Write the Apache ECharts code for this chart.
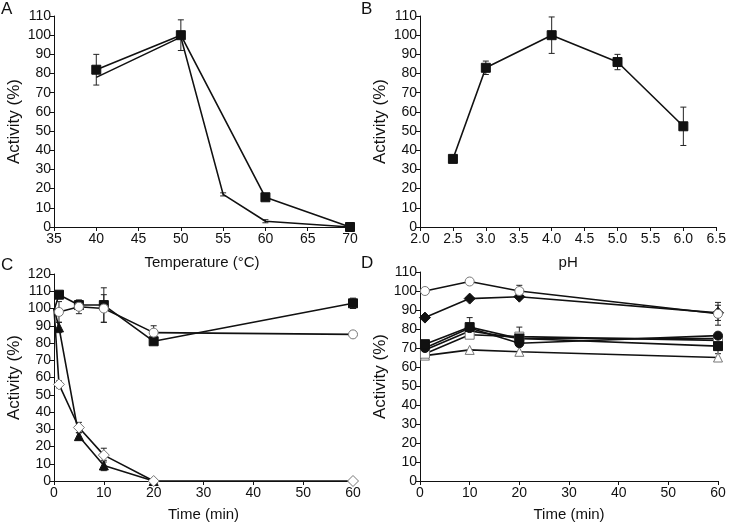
<!DOCTYPE html>
<html>
<head>
<meta charset="utf-8">
<script src="https://cdn.jsdelivr.net/npm/echarts@6/dist/echarts.min.js"></script>
<style>
  html, body { margin: 0; padding: 0; background: #fff; }
  #chart { width: 729px; height: 523px; }
</style>
</head>
<body>
<div id="chart"></div>
<script>
// panel A - temperature
const tempA1 = [40, 50, 60, 70]
const actA1 = [82, 100, 15.5, 0]
const errA1 = [8, 8, 0, 0]
const tempA2 = [40, 50, 55, 60, 70]
const actA2 = [78, 99, 17, 3, 0]
const errA2 = [0, 0, 0.8, 0.8, 0]

// panel B - pH
const phB = [2.5, 3.0, 4.0, 5.0, 6.0]
const actB = [35.5, 83, 100, 86, 52.5]
const errB = [1.5, 3.5, 9.5, 4, 10]

// panel C - time (min)
const timeC = [0, 1, 5, 10, 20, 60]
const cSquare = [99, 108, 102, 102, 81, 103]
const cSquareErr = [0, 1, 1, 10, 1, 3]
const cCircle = [100, 98, 101, 100, 86, 85]
const cCircleErr = [0, 6, 4, 8, 4, 0]
const cTriangle = [100, 89, 26, 9, 0, null]
const cTriangleErr = [0, 3, 2, 3, 0, 0]
const cDiamond = [100, 56, 31, 15, 0, 0]
const cDiamondErr = [0, 2, 3, 4, 0, 0]

// panel D - time (min)
const timeD = [1, 10, 20, 60]
const dOpenCircle = [100, 105, 100, 88]
const dOpenCircleErr = [0, 1, 3, 6]
const dDiamond = [86, 96, 97, 88.5]
const dDiamondErr = [0, 0, 0, 4]
const dSquare = [72, 81, 75, 71]
const dSquareErr = [0, 5, 0, 4]
const dCircle = [70, 80.5, 72.5, 76.5]
const dOpenSquare = [67, 77, 76, 74]
const dOpenSquareErr = [0, 2, 5, 0]
const dPlain = [69, 79, 75, 75]
const dOpenTriangle = [66, 69, 68, 65]

const FONT = 'Liberation Sans, Arial, sans-serif'
const INK = '#111'

// 0 时刻的点落在坐标轴上，不画标记
const pairs = (xs, ys) => xs
  .map((x, i) => (x === 0 ? { value: [x, ys[i]], symbol: 'none' } : [x, ys[i]]))
  .filter((p, i) => ys[i] !== null)

function lineSeries(idx, xs, ys, symbol, filled, size) {
  return {
    type: 'line',
    xAxisIndex: idx,
    yAxisIndex: idx,
    data: pairs(xs, ys),
    symbol: symbol,
    symbolSize: size || 8,
    showSymbol: symbol !== 'none',
    lineStyle: { color: INK, width: 1.6 },
    itemStyle: {
      color: filled ? INK : '#fff',
      borderColor: filled ? INK : '#777',
      borderWidth: 1
    },
    z: 3,
    animation: false
  }
}

// 误差线
function errorSeries(idx, xs, ys, errs) {
  const data = []
  xs.forEach((x, i) => {
    if (ys[i] !== null && errs[i] > 0) data.push([x, ys[i] - errs[i], ys[i] + errs[i]])
  })
  return {
    type: 'custom',
    xAxisIndex: idx,
    yAxisIndex: idx,
    data: data,
    z: 2,
    animation: false,
    renderItem(params, api) {
      const lo = api.coord([api.value(0), api.value(1)])
      const hi = api.coord([api.value(0), api.value(2)])
      const w = 3
      const style = { stroke: '#222', lineWidth: 1 }
      return {
        type: 'group',
        children: [
          { type: 'line', shape: { x1: lo[0], y1: lo[1], x2: hi[0], y2: hi[1] }, style },
          { type: 'line', shape: { x1: hi[0] - w, y1: hi[1], x2: hi[0] + w, y2: hi[1] }, style },
          { type: 'line', shape: { x1: lo[0] - w, y1: lo[1], x2: lo[0] + w, y2: lo[1] }, style }
        ]
      }
    }
  }
}

function xAxis(idx, min, max, interval, name, gap, digits) {
  return {
    type: 'value',
    gridIndex: idx,
    min: min,
    max: max,
    interval: interval,
    name: name,
    nameLocation: 'middle',
    nameGap: gap,
    nameTextStyle: { fontFamily: FONT, fontSize: 15, color: INK },
    axisLine: { show: true, onZero: false, lineStyle: { color: INK, width: 1 } },
    axisTick: { show: true, length: 4, lineStyle: { color: INK } },
    axisLabel: {
      margin: 5,
      fontFamily: FONT,
      fontSize: 14,
      color: INK,
      showMinLabel: true,
      showMaxLabel: true,
      formatter: v => digits ? v.toFixed(digits) : String(v)
    },
    splitLine: { show: false }
  }
}

function yAxis(idx, max) {
  return {
    type: 'value',
    gridIndex: idx,
    min: 0,
    max: max,
    interval: 10,
    name: 'Activity (%)',
    nameLocation: 'middle',
    nameGap: 31,
    nameTextStyle: { fontFamily: FONT, fontSize: 17, color: INK },
    axisLine: { show: true, lineStyle: { color: INK, width: 1 } },
    axisTick: { show: true, length: 4, lineStyle: { color: INK } },
    axisLabel: { margin: 3, fontFamily: FONT, fontSize: 14, color: INK },
    splitLine: { show: false }
  }
}

const panelLabel = (text, left, top) => ({
  text: text,
  left: left,
  top: top,
  padding: 0,
  textStyle: { fontFamily: FONT, fontSize: 17, fontWeight: 'normal', color: INK }
})

const chart = echarts.init(document.getElementById('chart'))
const option = {
  backgroundColor: '#fff',
  animation: false,
  title: [
    panelLabel('A', 1, 1),
    panelLabel('B', 361, 1),
    panelLabel('C', 1, 257),
    panelLabel('D', 361, 255)
  ],
  grid: [
    { left: 54, top: 16, width: 296, height: 211 },
    { left: 420, top: 16, width: 300, height: 211 },
    { left: 54, top: 274, width: 299, height: 210 },
    { left: 420, top: 272, width: 298, height: 212 }
  ],
  xAxis: [
    xAxis(0, 35, 70, 5, 'Temperature (°C)', 28),
    xAxis(1, 2.0, 6.5, 0.5, 'pH', 28, 1),
    xAxis(2, 0, 60, 10, 'Time (min)', 26),
    xAxis(3, 0, 60, 10, 'Time (min)', 26)
  ],
  yAxis: [
    yAxis(0, 110),
    yAxis(1, 110),
    yAxis(2, 120),
    yAxis(3, 110)
  ],
  series: [
    errorSeries(0, tempA1, actA1, errA1),
    errorSeries(0, tempA2, actA2, errA2),
    lineSeries(0, tempA2, actA2, 'none', true),
    lineSeries(0, tempA1, actA1, 'rect', true, 9),

    errorSeries(1, phB, actB, errB),
    lineSeries(1, phB, actB, 'rect', true, 9),

    errorSeries(2, timeC, cSquare, cSquareErr),
    errorSeries(2, timeC, cCircle, cCircleErr),
    errorSeries(2, timeC, cTriangle, cTriangleErr),
    errorSeries(2, timeC, cDiamond, cDiamondErr),
    lineSeries(2, timeC, cSquare, 'rect', true, 9),
    lineSeries(2, timeC, cCircle, 'circle', false, 9),
    lineSeries(2, timeC, cTriangle, 'triangle', true, 9),
    lineSeries(2, timeC, cDiamond, 'diamond', false, 11),

    errorSeries(3, timeD, dOpenCircle, dOpenCircleErr),
    errorSeries(3, timeD, dDiamond, dDiamondErr),
    errorSeries(3, timeD, dSquare, dSquareErr),
    errorSeries(3, timeD, dOpenSquare, dOpenSquareErr),
    lineSeries(3, timeD, dOpenTriangle, 'triangle', false, 9),
    lineSeries(3, timeD, dOpenSquare, 'rect', false, 9),
    lineSeries(3, timeD, dPlain, 'none', true),
    lineSeries(3, timeD, dCircle, 'circle', true, 9),
    lineSeries(3, timeD, dSquare, 'rect', true, 9),
    lineSeries(3, timeD, dDiamond, 'diamond', true, 11),
    lineSeries(3, timeD, dOpenCircle, 'circle', false, 9)
  ]
}
option && chart.setOption(option)
</script>
</body>
</html>
